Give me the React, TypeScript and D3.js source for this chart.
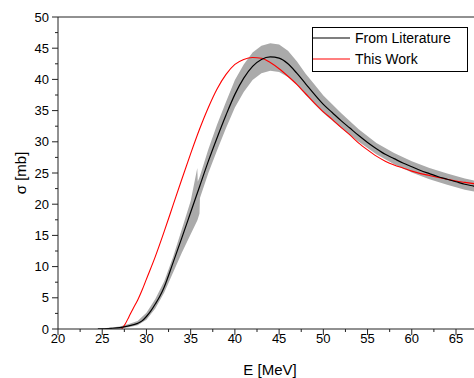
import React from "react";
import * as d3 from "d3";

const litE = [24.5, 25, 26, 27, 28, 29, 29.5, 30, 30.5, 31, 31.5, 32, 33, 34, 35, 36, 37, 38, 39, 40, 41, 42, 43, 44, 45, 46, 47, 48, 49, 50, 51, 52, 53, 54, 55, 56, 57, 58, 59, 60, 61, 62, 63, 64, 65, 66, 67, 68];
const litS = [0, 0.03, 0.1, 0.22, 0.5, 0.9, 1.3, 2.0, 2.9, 4.0, 5.2, 6.7, 10.6, 14.6, 18.7, 22.8, 26.9, 30.7, 34.3, 37.6, 40.2, 42.1, 43.2, 43.6, 43.4, 42.5, 41.0, 39.3, 37.6, 36.0, 34.7, 33.4, 32.2, 31.0, 29.9, 28.9, 28.0, 27.3, 26.6, 26.0, 25.4, 24.9, 24.4, 24.0, 23.6, 23.2, 22.9, 22.6];

const bandE = [25, 27, 28, 29, 30, 31, 32, 33, 34, 35, 35.75, 35.8, 36.0, 36.05, 37, 38, 39, 40, 41, 42, 43, 44, 45, 46, 47, 48, 49, 50, 52, 54, 56, 58, 60, 62, 64, 66, 68];
const bandLow = [0, 0.1, 0.3, 0.6, 1.5, 3.3, 5.8, 9.0, 12.2, 15.2, 17.4, 17.6, 18.5, 21.0, 25.0, 28.7, 32.2, 35.5, 38.0, 39.9, 41.0, 41.4, 41.2, 40.4, 39.1, 37.5, 36.0, 34.6, 32.2, 30.0, 28.0, 26.4, 25.1, 24.0, 23.1, 22.3, 21.8];
const bandHigh = [0.1, 0.4, 0.8, 1.3, 2.6, 4.8, 7.6, 11.5, 16.0, 20.5, 25.8, 23.6, 24.3, 24.5, 28.8, 32.8, 36.4, 39.9, 42.4, 44.3, 45.4, 45.8, 45.6, 44.6, 42.9, 40.9, 39.2, 37.4, 34.6, 32.0, 29.8, 28.2, 26.9, 25.8, 24.9, 24.1, 23.5];

const workE = [27.2, 27.6, 28, 28.5, 29, 29.5, 30, 31, 32, 33, 34, 35, 36, 37, 38, 39, 40, 41, 42, 43, 44, 45, 46, 47, 48, 49, 50, 51, 52, 53, 54, 55, 56, 57, 58, 59, 60, 61, 62, 63, 64, 65, 66, 67, 68];
const workS = [0, 0.8, 1.9, 3.3, 4.6, 6.2, 8.0, 11.6, 15.6, 19.8, 24.0, 28.1, 32.0, 35.5, 38.5, 40.8, 42.4, 43.2, 43.5, 43.4, 42.7, 41.7, 40.5, 39.2, 37.7, 36.2, 34.8, 33.6, 32.3, 31.1, 29.8, 28.7, 27.7, 26.9, 26.3, 25.8, 25.3, 24.9, 24.6, 24.3, 24.0, 23.7, 23.5, 23.3, 23.1];

const xTicks = [20, 25, 30, 35, 40, 45, 50, 55, 60, 65];
const yTicks = [0, 5, 10, 15, 20, 25, 30, 35, 40, 45, 50];
const legendLabels = ["From Literature", "This Work"];

export default function App() {
  const left = 58, top = 17, bottom = 329, right = 474;
  const x = d3.scaleLinear().domain([20, 65]).range([left, 456]);
  const y = d3.scaleLinear().domain([0, 50]).range([bottom, top]);

  const line = d3.line<[number, number]>().x(d => x(d[0])).y(d => y(d[1])).curve(d3.curveMonotoneX);
  const area = d3.area<number>()
    .x((_, i) => x(bandE[i]))
    .y0((_, i) => y(bandLow[i]))
    .y1((_, i) => y(bandHigh[i]));

  const lit = litE.map((e, i) => [e, litS[i]] as [number, number]);
  const work = workE.map((e, i) => [e, workS[i]] as [number, number]);

  const xMinor = d3.range(22.5, 68, 5);
  const yMinor = d3.range(2.5, 50, 5);
  const font = "Arial, 'Liberation Sans', sans-serif";
  const axisColor = "#222";

  return (
    <svg width={474} height={378} style={{ position: "absolute", left: 0, top: 0, background: "#fff" }} fontFamily={font}>
      <defs>
        <clipPath id="plotclip">
          <rect x={left} y={top} width={right - left} height={bottom - top} />
        </clipPath>
      </defs>
      <g clipPath="url(#plotclip)">
        <path d={area(bandE) || ""} fill="#aaaaaa" stroke="none" />
        <path d={line(work) || ""} fill="none" stroke="#ff0000" strokeWidth={1.1} />
        <path d={line(lit) || ""} fill="none" stroke="#000" strokeWidth={1.2} />
      </g>
      <line x1={left} y1={bottom} x2={right} y2={bottom} stroke={axisColor} strokeWidth={1} />
      <line x1={left} y1={top} x2={left} y2={bottom} stroke={axisColor} strokeWidth={1} />
      <line x1={left} y1={top} x2={right} y2={top} stroke={axisColor} strokeWidth={1} />
      {xTicks.map(t => (
        <g key={"xt" + t}>
          <line x1={x(t)} x2={x(t)} y1={bottom} y2={bottom + 6} stroke={axisColor} />
          <text x={x(t)} y={343} fontSize={13} textAnchor="middle" fill="#000">{t}</text>
        </g>
      ))}
      {xMinor.map(t => (
        <line key={"xm" + t} x1={x(t)} x2={x(t)} y1={bottom} y2={bottom + 3} stroke={axisColor} />
      ))}
      {yTicks.map(t => (
        <g key={"yt" + t}>
          <line x1={left - 6} x2={left} y1={y(t)} y2={y(t)} stroke={axisColor} />
          <text x={49} y={y(t) + 4.5} fontSize={13} textAnchor="end" fill="#000">{t}</text>
        </g>
      ))}
      {yMinor.map(t => (
        <line key={"ym" + t} x1={left - 3} x2={left} y1={y(t)} y2={y(t)} stroke={axisColor} />
      ))}
      <text x={270} y={375} fontSize={15} textAnchor="middle" fill="#000">E [MeV]</text>
      <text transform="translate(26,173) rotate(-90)" fontSize={15} textAnchor="middle" fill="#000">σ [mb]</text>
      <rect x={312.5} y={27.5} width={155} height={44} fill="#fff" stroke="#000" strokeWidth={1} />
      {legendLabels.map((lab, i) => (
        <g key={lab}>
          <line x1={313} x2={350} y1={38 + i * 21} y2={38 + i * 21} stroke={i === 0 ? "#000" : "#ff0000"} strokeWidth={1.1} />
          <text x={355} y={43 + i * 21} fontSize={14} fill="#000">{lab}</text>
        </g>
      ))}
    </svg>
  );
}
